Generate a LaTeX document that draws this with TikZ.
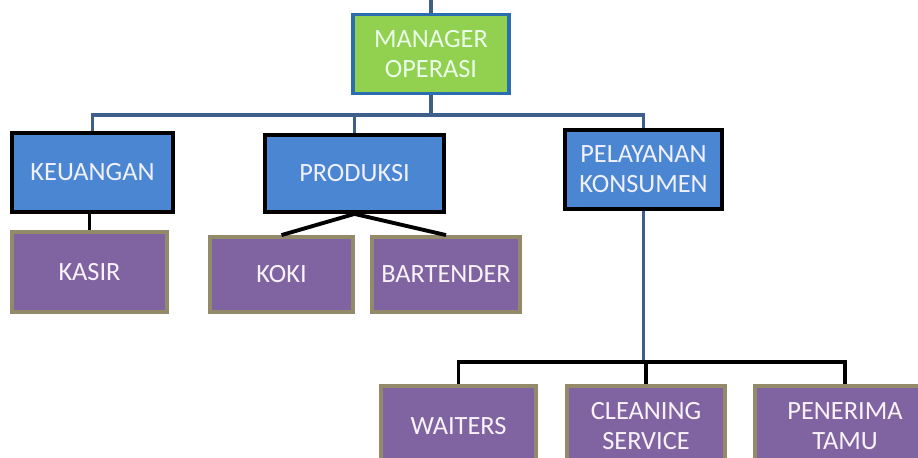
\documentclass[tikz,border=0pt]{standalone}
\usepackage{fontspec}
\setmainfont{Carlito}
\usepackage{tikz}

\definecolor{unitblue}{HTML}{4A86D2}
\definecolor{headgreen}{HTML}{92D050}
\definecolor{headedge}{HTML}{2A6EAF}
\definecolor{staffpurple}{HTML}{8064A2}
\definecolor{staffedge}{HTML}{938A6A}
\definecolor{linkblue}{HTML}{3E5F8A}

\begin{document}
\begin{tikzpicture}[x=0.02cm, y=-0.02cm,
        every node/.style = {rectangle, line width=2.2pt, align=center,
            font=\fontsize{15}{17}\selectfont},
        headbox/.style = {draw=headedge, fill=headgreen, text=green!8!white},
        unitbox/.style = {draw=black, fill=unitblue, text=blue!6!white},
        staffbox/.style = {draw=staffedge, fill=staffpurple, text=violet!5!white},
        bluelink/.style = {draw=linkblue, line width=2.2pt},
        blacklink/.style = {draw=black, line width=2.2pt}]
        \clip (0,0) rectangle (918,457);

        \node[headbox, minimum width=3.12cm, minimum height=1.58cm] (mgr) at (431,54) {MANAGER\\OPERASI};

        \node[unitbox, minimum width=3.22cm, minimum height=1.58cm] (keu) at (92.5,172.5) {KEUANGAN};
        \node[unitbox, minimum width=3.58cm, minimum height=1.54cm] (prod) at (354.5,173.5) {PRODUKSI};
        \node[unitbox, minimum width=3.14cm, minimum height=1.58cm] (pel) at (643.5,169.5) {PELAYANAN\\KONSUMEN};

        \node[staffbox, minimum width=3.10cm, minimum height=1.60cm] (kasir) at (89.5,272) {KASIR};
        \node[staffbox, minimum width=2.86cm, minimum height=1.50cm] (koki) at (281.5,274.5) {KOKI};
        \node[staffbox, minimum width=2.96cm, minimum height=1.50cm] (bart) at (446,274.5) {BARTENDER};

        \node[staffbox, minimum width=3.10cm, minimum height=1.60cm] (wait) at (458.5,426) {WAITERS};
        \node[staffbox, minimum width=3.16cm, minimum height=1.60cm] (clean) at (646,426) {CLEANING\\SERVICE};
        \node[staffbox, minimum width=3.60cm, minimum height=1.60cm] (tamu) at (845,426) {PENERIMA\\TAMU};

        \coordinate (up) at (mgr.north |- 0,0);
        \coordinate (bus) at (431,115);
        \coordinate (sub) at (643.5,362);

        \draw[bluelink] (up) -- (mgr.north);
        \draw[bluelink] (mgr.south) -- (bus);
        \foreach \to in {keu, prod, pel}
            \draw[bluelink] (bus) -| (\to.north);

        \draw[blacklink] (keu.south -| kasir.north) -- (kasir.north);
        \foreach \to in {koki, bart}
            \draw[blacklink] (prod.south) -- (\to.north);

        \draw[bluelink] (pel.south) -- (sub);
        \foreach \to in {wait, clean, tamu}
            \draw[blacklink] (sub) -| (\to.north);
\end{tikzpicture}
\end{document}
